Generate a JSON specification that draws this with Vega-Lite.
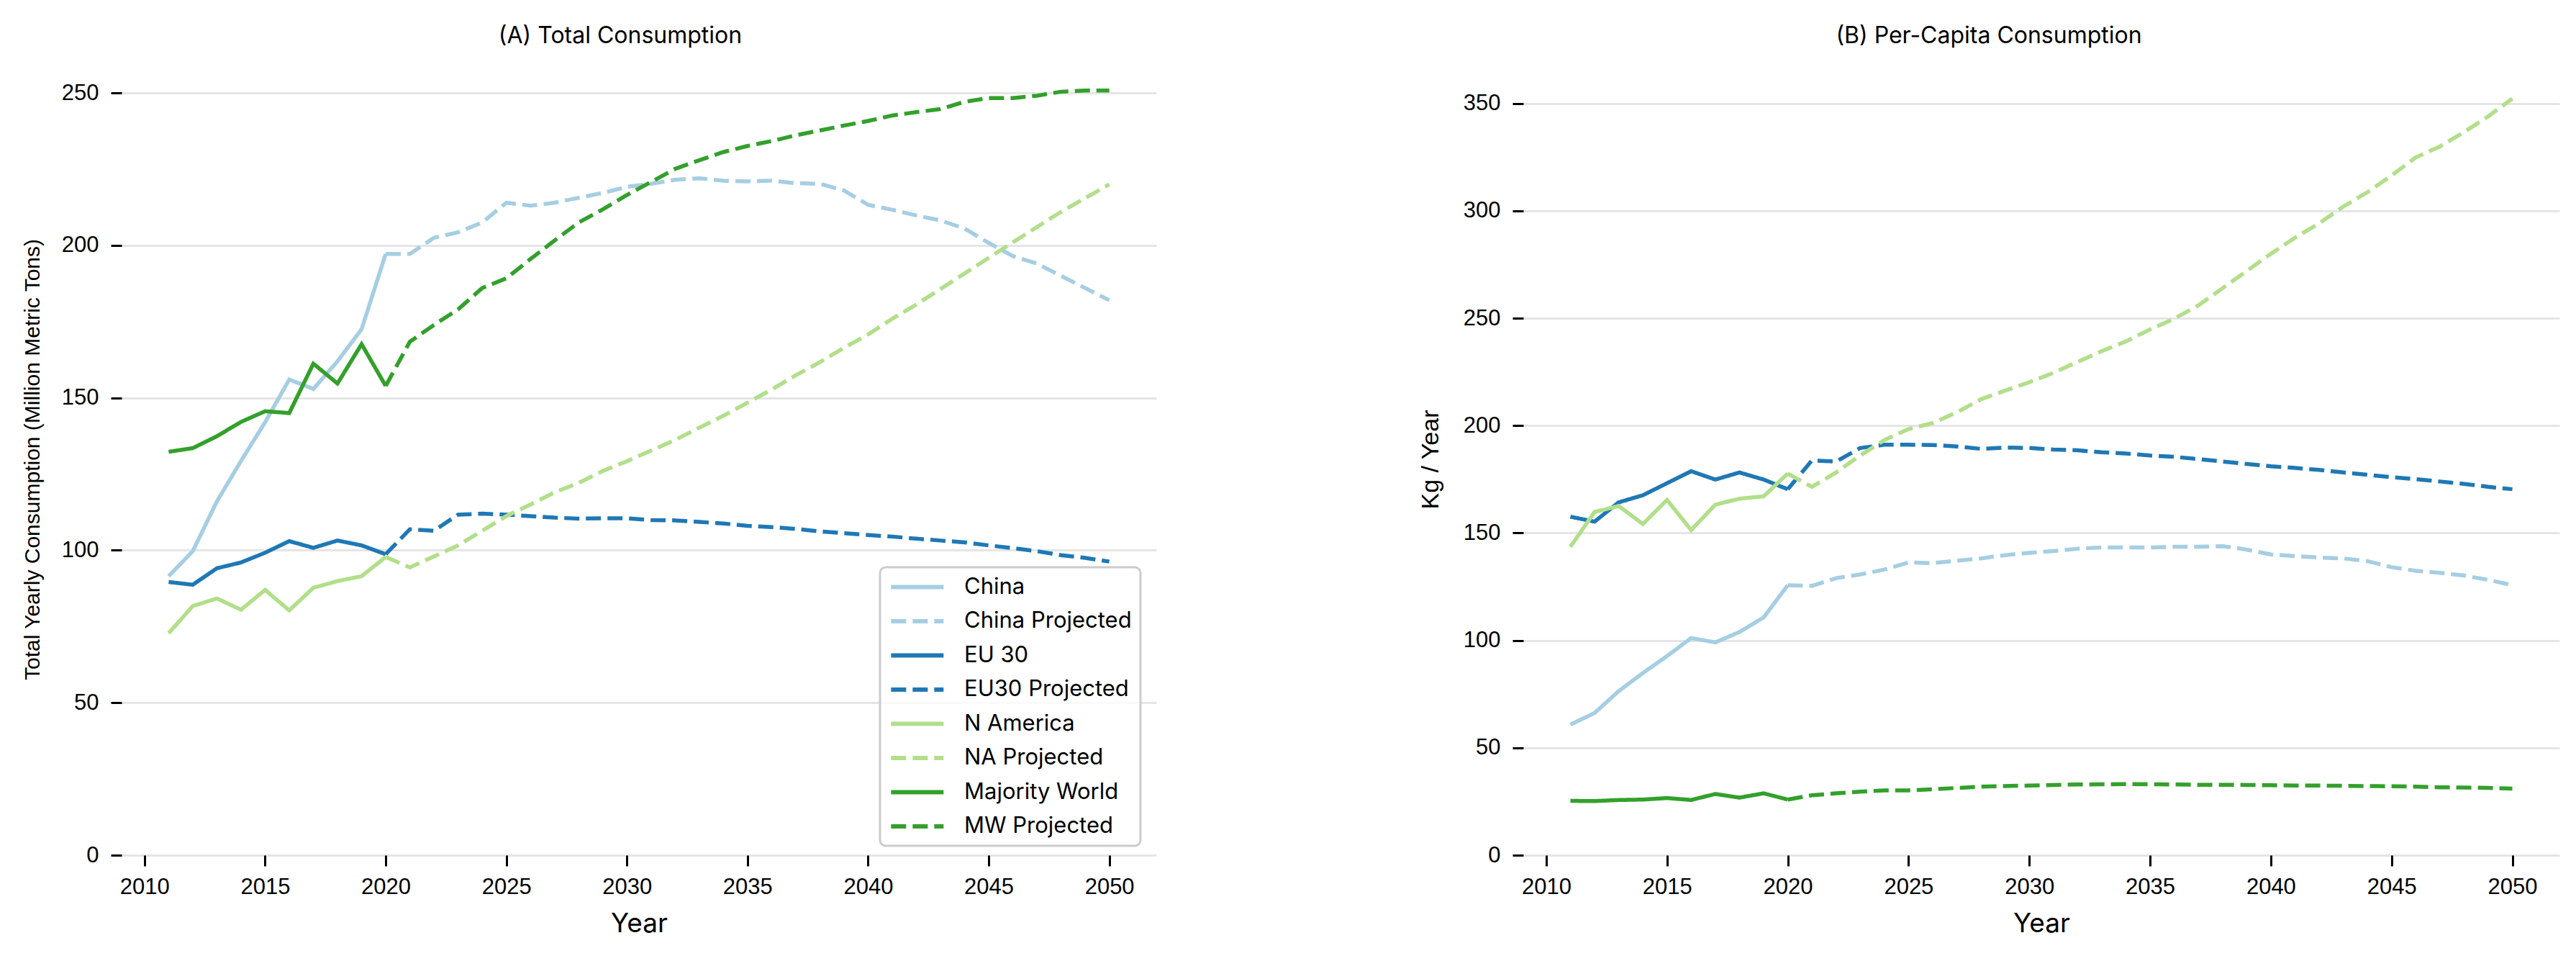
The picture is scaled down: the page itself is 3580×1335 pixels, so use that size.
{
"$schema": "https://vega.github.io/schema/vega-lite/v6.json",
"background": "white",
"padding": {"left": 30, "top": 34, "right": 10, "bottom": 10},
"spacing": 364,
"config": {
  "view": {"stroke": null},
  "axis": {"domain": false, "gridColor": "#e5e5e5", "gridWidth": 3, "tickColor": "#000000", "tickWidth": 3, "tickSize": 15, "labelFont": "Liberation Sans", "labelFontSize": 31, "labelColor": "#000000", "titleColor": "#000000", "titleFontWeight": "normal"},
  "title": {"font": "Inter", "fontSize": 32, "fontWeight": "normal", "color": "#000000", "offset": 21},
  "legend": {"strokeWidth": 3}
},
"datasets": {
"A": [
{"year":2011,"China":91.5,"EU 30":89.6,"N America":72.8,"Majority World":132.3},
{"year":2012,"China":99.7,"EU 30":88.7,"N America":81.7,"Majority World":133.5},
{"year":2013,"China":116,"EU 30":94.1,"N America":84.2,"Majority World":137.4},
{"year":2014,"China":129.3,"EU 30":96,"N America":80.5,"Majority World":142.1},
{"year":2015,"China":142,"EU 30":99.2,"N America":87,"Majority World":145.6},
{"year":2016,"China":156,"EU 30":103,"N America":80.3,"Majority World":145},
{"year":2017,"China":152.9,"EU 30":100.8,"N America":87.7,"Majority World":161.2},
{"year":2018,"China":162,"EU 30":103.2,"N America":89.9,"Majority World":154.7},
{"year":2019,"China":172.5,"EU 30":101.6,"N America":91.5,"Majority World":167.6},
{"year":2020,"China":197.2,"EU 30":98.7,"N America":97.8,"Majority World":153.9,"China Projected":197.2,"EU30 Projected":98.7,"NA Projected":97.8,"MW Projected":153.9},
{"year":2021,"China Projected":197.2,"EU30 Projected":106.9,"NA Projected":94.4,"MW Projected":168.4},
{"year":2022,"China Projected":202.5,"EU30 Projected":106.4,"NA Projected":98,"MW Projected":173.9},
{"year":2023,"China Projected":204.3,"EU30 Projected":111.7,"NA Projected":101.6,"MW Projected":179},
{"year":2024,"China Projected":207.5,"EU30 Projected":112,"NA Projected":106.4,"MW Projected":186},
{"year":2025,"China Projected":214,"EU30 Projected":111.7,"NA Projected":111.2,"MW Projected":189.2},
{"year":2026,"China Projected":213,"EU30 Projected":111.2,"NA Projected":115,"MW Projected":195.5},
{"year":2027,"China Projected":214,"EU30 Projected":110.7,"NA Projected":119,"MW Projected":201.6},
{"year":2028,"China Projected":215.6,"EU30 Projected":110.4,"NA Projected":122.1,"MW Projected":207.5},
{"year":2029,"China Projected":217.2,"EU30 Projected":110.5,"NA Projected":126,"MW Projected":211.8},
{"year":2030,"China Projected":219.2,"EU30 Projected":110.5,"NA Projected":129.2,"MW Projected":216.5},
{"year":2031,"China Projected":220.2,"EU30 Projected":109.9,"NA Projected":132.7,"MW Projected":220.8},
{"year":2032,"China Projected":221.5,"EU30 Projected":109.8,"NA Projected":136.2,"MW Projected":225.1},
{"year":2033,"China Projected":222,"EU30 Projected":109.3,"NA Projected":140.2,"MW Projected":227.9},
{"year":2034,"China Projected":221.2,"EU30 Projected":108.8,"NA Projected":144.1,"MW Projected":230.6},
{"year":2035,"China Projected":221,"EU30 Projected":108,"NA Projected":148.4,"MW Projected":232.6},
{"year":2036,"China Projected":221.2,"EU30 Projected":107.6,"NA Projected":152.7,"MW Projected":234.2},
{"year":2037,"China Projected":220.4,"EU30 Projected":107,"NA Projected":157.4,"MW Projected":236.1},
{"year":2038,"China Projected":220.2,"EU30 Projected":106.2,"NA Projected":161.7,"MW Projected":237.7},
{"year":2039,"China Projected":218,"EU30 Projected":105.6,"NA Projected":166.4,"MW Projected":239.3},
{"year":2040,"China Projected":213.3,"EU30 Projected":105,"NA Projected":170.8,"MW Projected":240.8},
{"year":2041,"China Projected":211.7,"EU30 Projected":104.5,"NA Projected":175.9,"MW Projected":242.6},
{"year":2042,"China Projected":209.8,"EU30 Projected":103.8,"NA Projected":180.6,"MW Projected":243.7},
{"year":2043,"China Projected":208.2,"EU30 Projected":103.2,"NA Projected":185.7,"MW Projected":244.7},
{"year":2044,"China Projected":205.5,"EU30 Projected":102.6,"NA Projected":190.8,"MW Projected":247.1},
{"year":2045,"China Projected":200.8,"EU30 Projected":101.6,"NA Projected":195.9,"MW Projected":248.3},
{"year":2046,"China Projected":196.5,"EU30 Projected":100.7,"NA Projected":201,"MW Projected":248.3},
{"year":2047,"China Projected":194,"EU30 Projected":99.7,"NA Projected":206,"MW Projected":249.1},
{"year":2048,"China Projected":190,"EU30 Projected":98.4,"NA Projected":211,"MW Projected":250.4},
{"year":2049,"China Projected":186,"EU30 Projected":97.5,"NA Projected":215.5,"MW Projected":250.8},
{"year":2050,"China Projected":182,"EU30 Projected":96.3,"NA Projected":220,"MW Projected":250.8}
],
"B": [
{"year":2011,"China":60.8,"EU 30":157.6,"N America":143.6,"Majority World":25.3},
{"year":2012,"China":66.2,"EU 30":155.3,"N America":159.8,"Majority World":25.2},
{"year":2013,"China":76.4,"EU 30":164.3,"N America":162.6,"Majority World":25.7},
{"year":2014,"China":84.8,"EU 30":167.6,"N America":154.2,"Majority World":25.9},
{"year":2015,"China":92.7,"EU 30":173.2,"N America":165.4,"Majority World":26.6},
{"year":2016,"China":101.1,"EU 30":178.8,"N America":151.4,"Majority World":25.7},
{"year":2017,"China":99.1,"EU 30":174.9,"N America":163.2,"Majority World":28.5},
{"year":2018,"China":103.9,"EU 30":178.2,"N America":166,"Majority World":26.8},
{"year":2019,"China":110.7,"EU 30":174.9,"N America":167.1,"Majority World":28.8},
{"year":2020,"China":125.7,"EU 30":170.4,"N America":177.7,"Majority World":25.9,"China Projected":125.7,"EU30 Projected":170.4,"NA Projected":177.7,"MW Projected":25.9},
{"year":2021,"China Projected":125.4,"EU30 Projected":183.8,"NA Projected":171.5,"MW Projected":27.9},
{"year":2022,"China Projected":129,"EU30 Projected":183.3,"NA Projected":178.2,"MW Projected":28.8},
{"year":2023,"China Projected":130.7,"EU30 Projected":189.6,"NA Projected":186.1,"MW Projected":29.6},
{"year":2024,"China Projected":133,"EU30 Projected":191.1,"NA Projected":193.3,"MW Projected":30.2},
{"year":2025,"China Projected":136.3,"EU30 Projected":191.1,"NA Projected":198.4,"MW Projected":30.2},
{"year":2026,"China Projected":136,"EU30 Projected":191,"NA Projected":201.2,"MW Projected":30.7},
{"year":2027,"China Projected":137.1,"EU30 Projected":190.3,"NA Projected":206.2,"MW Projected":31.3},
{"year":2028,"China Projected":138.2,"EU30 Projected":189.2,"NA Projected":212.3,"MW Projected":31.9},
{"year":2029,"China Projected":139.7,"EU30 Projected":189.8,"NA Projected":216.3,"MW Projected":32.2},
{"year":2030,"China Projected":140.8,"EU30 Projected":189.6,"NA Projected":220.2,"MW Projected":32.4},
{"year":2031,"China Projected":141.6,"EU30 Projected":188.9,"NA Projected":224.6,"MW Projected":32.7},
{"year":2032,"China Projected":142.7,"EU30 Projected":188.5,"NA Projected":229.7,"MW Projected":32.9},
{"year":2033,"China Projected":143.3,"EU30 Projected":187.6,"NA Projected":234.7,"MW Projected":33},
{"year":2034,"China Projected":143.3,"EU30 Projected":187,"NA Projected":239.2,"MW Projected":33.1},
{"year":2035,"China Projected":143.3,"EU30 Projected":186.1,"NA Projected":244.8,"MW Projected":33},
{"year":2036,"China Projected":143.6,"EU30 Projected":185.5,"NA Projected":249.8,"MW Projected":32.9},
{"year":2037,"China Projected":143.6,"EU30 Projected":184.4,"NA Projected":256,"MW Projected":32.8},
{"year":2038,"China Projected":143.9,"EU30 Projected":183.3,"NA Projected":264,"MW Projected":32.8},
{"year":2039,"China Projected":142.3,"EU30 Projected":182.2,"NA Projected":272,"MW Projected":32.7},
{"year":2040,"China Projected":140,"EU30 Projected":181.1,"NA Projected":280,"MW Projected":32.6},
{"year":2041,"China Projected":139.3,"EU30 Projected":180.3,"NA Projected":287.5,"MW Projected":32.4},
{"year":2042,"China Projected":138.6,"EU30 Projected":179.4,"NA Projected":294.2,"MW Projected":32.4},
{"year":2043,"China Projected":138.2,"EU30 Projected":178.2,"NA Projected":302,"MW Projected":32.3},
{"year":2044,"China Projected":136.9,"EU30 Projected":177.1,"NA Projected":308.7,"MW Projected":32.2},
{"year":2045,"China Projected":134.1,"EU30 Projected":176,"NA Projected":316.5,"MW Projected":32.1},
{"year":2046,"China Projected":132.4,"EU30 Projected":175.1,"NA Projected":324.9,"MW Projected":31.9},
{"year":2047,"China Projected":131.5,"EU30 Projected":174,"NA Projected":330,"MW Projected":31.6},
{"year":2048,"China Projected":130.2,"EU30 Projected":172.9,"NA Projected":336.7,"MW Projected":31.5},
{"year":2049,"China Projected":128.2,"EU30 Projected":171.5,"NA Projected":344,"MW Projected":31.3},
{"year":2050,"China Projected":125.7,"EU30 Projected":170.4,"NA Projected":352.3,"MW Projected":31}
]
},
"hconcat": [
{
  "width": 1438, "height": 1100,
  "title": {"text": "(A) Total Consumption", "dx": -26},
  "data": {"name": "A"},
  "transform": [
    {"fold": ["China","China Projected","EU 30","EU30 Projected","N America","NA Projected","Majority World","MW Projected"], "as": ["series","value"]},
    {"filter": "isValid(datum.value)"}
  ],
  "mark": {"type": "line", "strokeWidth": 5.5},
  "encoding": {
    "x": {"field": "year", "type": "quantitative", "scale": {"domain": [2009.05, 2051.95], "nice": false, "zero": false},
      "axis": {"values": [2010,2015,2020,2025,2030,2035,2040,2045,2050], "format": "d", "grid": false, "title": "Year", "titleFont": "Inter", "titleFontSize": 37, "labelPadding": 14, "titlePadding": 18}},
    "y": {"field": "value", "type": "quantitative", "scale": {"domain": [0, 259.7], "nice": false},
      "axis": {"values": [0,50,100,150,200,250], "grid": true, "title": "Total Yearly Consumption (Million Metric Tons)", "titleFont": "Liberation Sans", "titleFontSize": 30, "labelPadding": 17, "titlePadding": 25}},
    "color": {"field": "series", "type": "nominal",
      "scale": {"domain": ["China","China Projected","EU 30","EU30 Projected","N America","NA Projected","Majority World","MW Projected"],
                "range": ["#a6cee3","#a6cee3","#1f78b4","#1f78b4","#b2df8a","#b2df8a","#33a02c","#33a02c"]},
      "legend": {"title": null, "orient": "none", "legendX": 1054, "legendY": 700, "symbolType": "M-1,0H5", "symbolSize": 592, "symbolStrokeWidth": 6, "symbolFillColor": "transparent", "labelFont": "Inter", "labelFontSize": 31, "labelColor": "#000000", "labelOffset": 74, "labelLimit": 500, "rowPadding": 15.5, "padding": 12, "strokeColor": "#cccccc", "fillColor": "rgba(255,255,255,0.8)", "cornerRadius": 8}},
    "strokeDash": {"field": "series", "type": "nominal",
      "scale": {"domain": ["China","China Projected","EU 30","EU30 Projected","N America","NA Projected","Majority World","MW Projected"],
                "range": [[1,0],[21,9],[1,0],[21,9],[1,0],[21,9],[1,0],[21,9]]},
      "legend": {"title": null, "orient": "none", "legendX": 1054, "legendY": 700, "symbolType": "M-1,0H5", "symbolSize": 592, "symbolStrokeWidth": 6, "symbolFillColor": "transparent", "labelFont": "Inter", "labelFontSize": 31, "labelColor": "#000000", "labelOffset": 74, "labelLimit": 500, "rowPadding": 15.5, "padding": 12, "strokeColor": "#cccccc", "fillColor": "rgba(255,255,255,0.8)", "cornerRadius": 8}}
  }
},
{
  "width": 1440, "height": 1100,
  "title": {"text": "(B) Per-Capita Consumption", "dx": -73},
  "data": {"name": "B"},
  "transform": [
    {"fold": ["China","China Projected","EU 30","EU30 Projected","N America","NA Projected","Majority World","MW Projected"], "as": ["series","value"]},
    {"filter": "isValid(datum.value)"}
  ],
  "mark": {"type": "line", "strokeWidth": 5.5},
  "encoding": {
    "x": {"field": "year", "type": "quantitative", "scale": {"domain": [2009.05, 2051.95], "nice": false, "zero": false},
      "axis": {"values": [2010,2015,2020,2025,2030,2035,2040,2045,2050], "format": "d", "grid": false, "title": "Year", "titleFont": "Inter", "titleFontSize": 37, "labelPadding": 14, "titlePadding": 18}},
    "y": {"field": "value", "type": "quantitative", "scale": {"domain": [0, 368.7], "nice": false},
      "axis": {"values": [0,50,100,150,200,250,300,350], "grid": true, "title": "Kg / Year", "titleFont": "Liberation Sans", "titleFontSize": 34, "labelPadding": 17, "titlePadding": 28}},
    "color": {"field": "series", "type": "nominal",
      "scale": {"domain": ["China","China Projected","EU 30","EU30 Projected","N America","NA Projected","Majority World","MW Projected"],
                "range": ["#a6cee3","#a6cee3","#1f78b4","#1f78b4","#b2df8a","#b2df8a","#33a02c","#33a02c"]},
      "legend": null},
    "strokeDash": {"field": "series", "type": "nominal",
      "scale": {"domain": ["China","China Projected","EU 30","EU30 Projected","N America","NA Projected","Majority World","MW Projected"],
                "range": [[1,0],[21,9],[1,0],[21,9],[1,0],[21,9],[1,0],[21,9]]},
      "legend": null}
  }
}
],
"resolve": {"scale": {"color": "independent", "strokeDash": "independent"}, "legend": {"color": "independent", "strokeDash": "independent"}}
}
